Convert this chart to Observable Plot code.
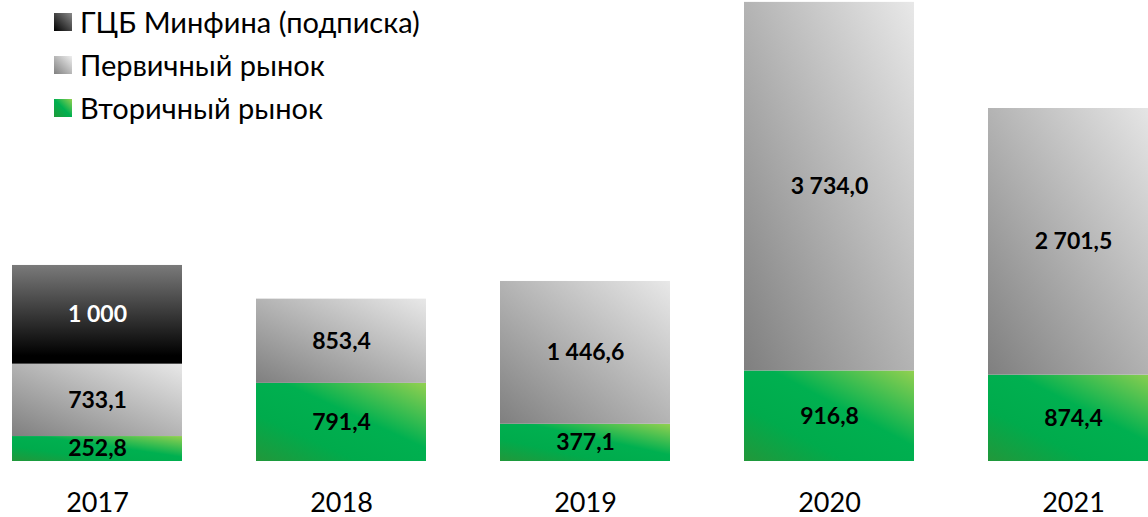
<!DOCTYPE html>
<html>
<head>
<meta charset="utf-8">
<script src="https://cdn.jsdelivr.net/npm/d3@7"></script>
<script src="https://cdn.jsdelivr.net/npm/@observablehq/plot@0.6"></script>
<style>
  html, body { margin: 0; padding: 0; background: #fff; }
  #wrap { position: relative; width: 1148px; height: 517px; overflow: hidden; font-family: Lato, "Open Sans", sans-serif; }
  #legend { position: absolute; left: 54px; top: 0; }
  .item { display: flex; align-items: center; height: 43px; font-size: 29px; color: #000; white-space: nowrap; }
  .sw { width: 18px; height: 18px; margin-right: 8px; flex: none; }
</style>
</head>
<body>
<div id="wrap"><div id="legend"></div></div>
<script>
const years = ["2017", "2018", "2019", "2020", "2021"];
const seriesNames = ["Вторичный рынок", "Первичный рынок", "ГЦБ Минфина (подписка)"];
const secondary = [252.8, 791.4, 377.1, 916.8, 874.4];
const primary = [733.1, 853.4, 1446.6, 3734.0, 2701.5];
const minfin = [1000, null, null, null, null];
const legendOrder = ["ГЦБ Минфина (подписка)", "Первичный рынок", "Вторичный рынок"];

const fills = {
  "Вторичный рынок": "url(#gGreen)",
  "Первичный рынок": "url(#gGray)",
  "ГЦБ Минфина (подписка)": "url(#gBlack)"
};
const swatchCss = {
  "Вторичный рынок": "linear-gradient(to top right, #1f9a38, #00b050 50%, #92d050)",
  "Первичный рынок": "linear-gradient(to top right, #808080, #eeeeee)",
  "ГЦБ Минфина (подписка)": "linear-gradient(to top right, #000000, #8a8a8a)"
};

const values = [secondary, primary, minfin];
const data = [];
seriesNames.forEach((s, si) => {
  years.forEach((y, i) => {
    const v = values[si][i];
    if (v != null) data.push({year: y, series: s, value: v});
  });
});

const loc = d3.formatLocale({decimal: ",", thousands: "\u00a0", grouping: [3], currency: ["", ""]});
const f1 = loc.format(",.1f");
const f0 = loc.format(",.0f");
const label = d => (d.series === "ГЦБ Минфина (подписка)" ? f0(d.value) : f1(d.value)).replace(/\u00a0/g, " ");

const chart = Plot.plot({
  width: 1148,
  height: 517,
  marginTop: 0,
  marginBottom: 56,
  marginLeft: 0,
  marginRight: 0,
  style: {fontFamily: "Lato, 'Open Sans', sans-serif", background: "transparent"},
  x: {type: "band", domain: years, range: [10, 1161], paddingInner: 0.302, paddingOuter: 0, label: null},
  y: {domain: [0, 4670], range: [461, 0], axis: null},
  color: {type: "identity"},
  marks: [
    Plot.barY(data, Plot.stackY({
      x: "year", y: "value", z: "series", order: seriesNames,
      fill: d => fills[d.series]
    })),
    Plot.text(data, Plot.stackY({
      x: "year", y: "value", z: "series", order: seriesNames,
      text: label,
      fill: d => d.series === "ГЦБ Минфина (подписка)" ? "white" : "black",
      fontSize: 23, fontWeight: "bold"
    })),
    Plot.axisX({tickSize: 0, tickPadding: 31, fontSize: 27, fill: "#000", label: null})
  ]
});

const svg = d3.select(chart);
const defs = svg.insert("defs", ":first-child");
const g1 = defs.append("linearGradient").attr("id", "gGreen").attr("x1", 0).attr("y1", 1).attr("x2", 1).attr("y2", 0);
g1.append("stop").attr("offset", 0).attr("stop-color", "#22973a");
g1.append("stop").attr("offset", 0.3).attr("stop-color", "#00ab4c");
g1.append("stop").attr("offset", 0.58).attr("stop-color", "#00b050");
g1.append("stop").attr("offset", 1).attr("stop-color", "#92d050");
const g2 = defs.append("linearGradient").attr("id", "gGray").attr("x1", 0).attr("y1", 1).attr("x2", 1).attr("y2", 0);
g2.append("stop").attr("offset", 0).attr("stop-color", "#7f7f7f");
g2.append("stop").attr("offset", 1).attr("stop-color", "#e8e8e8");
const g3 = defs.append("linearGradient").attr("id", "gBlack").attr("x1", 0).attr("y1", 1).attr("x2", 0).attr("y2", 0);
g3.append("stop").attr("offset", 0).attr("stop-color", "#000000");
g3.append("stop").attr("offset", 0.08).attr("stop-color", "#000000");
g3.append("stop").attr("offset", 1).attr("stop-color", "#7a7a7a");

chart.style.position = "absolute";
chart.style.left = "0";
chart.style.top = "0";
chart.style.overflow = "hidden";
const wrap = document.getElementById("wrap");
wrap.insertBefore(chart, wrap.firstChild);

const legend = d3.select("#legend");
legendOrder.forEach(s => {
  const it = legend.append("div").attr("class", "item");
  it.append("div").attr("class", "sw").style("background", swatchCss[s]);
  it.append("span").text(s);
});
</script>
</body>
</html>
